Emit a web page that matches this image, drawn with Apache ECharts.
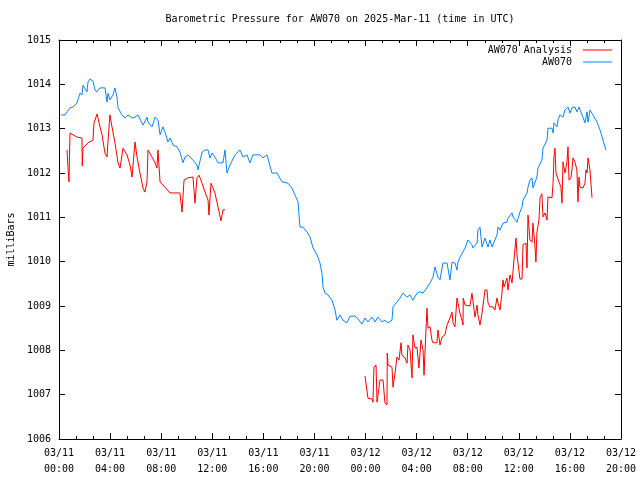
<!DOCTYPE html>
<html>
<head>
<meta charset="utf-8">
<script src="https://cdn.jsdelivr.net/npm/echarts@6/dist/echarts.min.js"></script>
<style>html,body{margin:0;padding:0;background:#fff}#c{width:640px;height:480px}</style>
</head>
<body>
<div id="c"></div>
<script>
// Hours since 03/11 00:00 UTC
var xTickLabels = ['03/11\n00:00','03/11\n04:00','03/11\n08:00','03/11\n12:00','03/11\n16:00','03/11\n20:00','03/12\n00:00','03/12\n04:00','03/12\n08:00','03/12\n12:00','03/12\n16:00','03/12\n20:00'];

var blueHours = [0.16,0.47,0.63,0.86,1.10,1.41,1.64,1.80,1.88,2.19,
2.27,2.43,2.66,2.82,2.98,3.21,3.60,3.76,3.84,3.99,
4.23,4.38,4.54,4.62,4.93,5.17,5.40,5.72,5.95,6.18,
6.58,6.89,6.97,7.28,7.52,7.75,7.91,8.14,8.30,8.53,
8.69,8.93,9.24,9.47,9.71,9.86,10.10,10.49,10.80,10.88,
11.20,11.43,11.67,11.82,11.98,12.21,12.45,12.84,13.00,13.15,
13.39,13.78,14.17,14.41,14.72,14.95,15.19,15.74,15.97,16.28,
16.67,17.07,17.46,17.93,18.24,18.48,18.71,18.87,19.10,19.42,
19.65,19.89,20.20,20.43,20.59,20.67,20.83,21.06,21.37,21.61,
21.76,22.00,22.23,22.55,22.78,23.17,23.41,23.72,23.96,24.19,
24.50,24.74,24.97,25.29,25.52,25.76,26.07,26.15,26.46,26.70,
26.93,27.25,27.48,27.71,28.03,28.26,28.50,28.81,29.05,29.28,
29.44,29.67,29.83,30.06,30.38,30.61,30.77,31.00,31.16,31.24,
31.39,31.63,31.79,32.02,32.33,32.41,32.73,32.80,32.96,33.12,
33.35,33.59,33.74,33.90,34.13,34.29,34.37,34.53,34.76,35.07,
35.15,35.47,35.54,35.86,36.09,36.25,36.33,36.64,36.72,36.87,
37.03,37.11,37.42,37.50,37.81,37.89,38.21,38.28,38.60,38.68,
38.75,38.99,39.07,39.22,39.46,39.61,39.85,40.00,40.16,40.39,
40.55,40.71,40.95,41.02,41.18,41.34,41.42,41.57,41.81,42.12,
42.36,42.59,42.82];

var bluePressure = [1013.31,1013.31,1013.38,1013.47,1013.49,1013.58,1013.80,1013.76,1013.98,1013.83,
1014.05,1014.12,1014.07,1013.87,1013.83,1013.92,1013.92,1013.60,1013.80,1013.65,
1013.76,1013.92,1013.71,1013.47,1013.31,1013.24,1013.31,1013.24,1013.26,1013.31,
1013.08,1013.26,1013.15,1013.04,1013.26,1013.20,1012.86,1013.04,1012.92,1012.70,
1012.79,1012.63,1012.59,1012.47,1012.23,1012.36,1012.41,1012.29,1012.18,1012.07,
1012.47,1012.52,1012.52,1012.34,1012.45,1012.36,1012.23,1012.23,1012.52,1012.00,
1012.18,1012.41,1012.52,1012.36,1012.41,1012.23,1012.41,1012.41,1012.34,1012.41,
1012.00,1012.00,1011.80,1011.77,1011.66,1011.50,1011.35,1010.78,1010.78,1010.67,
1010.56,1010.31,1010.15,1009.97,1009.74,1009.43,1009.29,1009.25,1009.13,1008.91,
1008.68,1008.80,1008.68,1008.62,1008.77,1008.77,1008.71,1008.59,1008.73,1008.64,
1008.75,1008.64,1008.75,1008.64,1008.68,1008.62,1008.68,1008.98,1009.09,1009.18,
1009.29,1009.20,1009.25,1009.13,1009.29,1009.32,1009.29,1009.41,1009.52,1009.65,
1009.88,1009.65,1009.59,1009.97,1009.97,1009.59,1009.99,1009.97,1009.81,1009.99,
1010.10,1010.22,1010.31,1010.49,1010.38,1010.31,1010.42,1010.71,1010.78,1010.33,
1010.53,1010.33,1010.49,1010.33,1010.49,1010.60,1010.78,1010.71,1010.87,1010.89,
1010.98,1011.10,1011.01,1010.89,1011.12,1011.23,1011.39,1011.55,1011.68,1011.84,
1011.89,1011.66,1011.91,1012.11,1012.29,1012.56,1012.74,1013.01,1013.01,1012.90,
1013.13,1013.04,1013.20,1013.31,1013.26,1013.42,1013.49,1013.35,1013.47,1013.49,
1013.38,1013.49,1013.31,1013.26,1013.13,1013.38,1013.15,1013.42,1013.31,1013.15,
1012.97,1012.74,1012.52];

var redHours1 = [0.63,0.70,0.78,0.86,1.41,1.80,1.82,1.88,2.27,2.66,
2.74,2.98,3.21,3.37,3.60,3.76,3.84,3.99,4.15,4.38,
4.62,4.78,5.01,5.32,5.56,5.72,5.95,6.11,6.34,6.58,
6.73,6.89,6.97,7.28,7.52,7.67,7.75,7.91,8.30,8.69,
9.47,9.63,9.79,10.10,10.49,10.65,10.80,10.96,11.20,11.43,
11.67,11.74,11.90,12.21,12.45,12.68,12.84,13.00];

var redPressure1 = [1012.52,1012.13,1011.80,1012.90,1012.81,1012.79,1012.16,1012.56,1012.68,1012.74,
1013.13,1013.33,1013.04,1012.86,1012.45,1012.36,1012.74,1013.31,1013.04,1012.68,
1012.23,1012.11,1012.56,1012.41,1012.18,1011.91,1012.70,1012.36,1012.00,1011.66,
1011.57,1011.80,1012.52,1012.36,1012.23,1012.11,1012.52,1011.80,1011.68,1011.55,
1011.55,1011.12,1011.84,1011.89,1011.91,1011.32,1011.89,1011.95,1011.77,1011.57,
1011.39,1011.05,1011.77,1011.55,1011.23,1010.92,1011.17,1011.17];

var redHours2 = [23.96,24.11,24.19,24.50,24.58,24.66,24.82,24.90,25.13,25.37,
25.52,25.68,25.70,25.76,26.07,26.15,26.31,26.46,26.62,26.78,
26.85,27.09,27.25,27.32,27.48,27.64,27.71,27.87,28.03,28.18,
28.34,28.50,28.58,28.65,28.81,28.89,29.05,29.20,29.28,29.59,
29.67,29.83,29.99,30.22,30.38,30.61,30.77,30.85,31.00,31.16,
31.24,31.39,31.55,31.63,31.65,31.79,32.18,32.33,32.41,32.57,
32.73,32.80,32.96,33.12,33.19,33.35,33.51,33.59,33.74,33.98,
34.13,34.29,34.37,34.53,34.68,34.76,34.84,35.07,35.15,35.31,
35.47,35.54,35.62,35.78,35.86,36.09,36.25,36.33,36.56,36.64,
36.72,36.87,37.03,37.11,37.27,37.34,37.42,37.58,37.66,37.81,
37.89,38.05,38.21,38.28,38.60,38.68,38.75,38.83,38.91,38.99,
39.14,39.30,39.38,39.46,39.61,39.77,39.85,39.93,40.08,40.16,
40.24,40.39,40.55,40.63,40.71,40.79,41.02,41.18,41.26,41.34,
41.42,41.57,41.73];

var redPressure2 = [1007.42,1007.38,1006.92,1006.90,1006.83,1007.62,1007.67,1006.83,1007.33,1007.33,
1006.81,1006.77,1007.94,1007.67,1007.62,1007.17,1007.49,1007.85,1007.78,1008.17,
1007.89,1007.83,1007.71,1008.12,1008.01,1007.38,1008.35,1008.05,1008.07,1007.60,
1008.23,1008.01,1007.44,1007.94,1008.95,1008.50,1008.53,1008.23,1008.17,1008.17,
1008.46,1008.12,1008.30,1008.35,1008.57,1008.73,1008.86,1008.62,1008.53,1009.18,
1009.20,1008.84,1008.68,1008.57,1009.18,1009.02,1009.00,1009.29,1009.29,1008.75,
1009.02,1008.80,1008.57,1008.84,1008.86,1009.36,1009.36,1009.07,1008.98,1008.98,
1008.91,1009.18,1009.07,1008.91,1009.29,1009.59,1009.43,1009.63,1009.36,1009.70,
1009.52,1009.54,1010.04,1010.53,1010.15,1009.61,1009.61,1010.38,1010.42,1009.86,
1011.05,1010.49,1010.44,1010.87,1010.33,1009.99,1010.67,1010.94,1011.44,1011.53,
1011.01,1011.10,1010.94,1011.46,1011.44,1011.77,1012.36,1012.56,1012.00,1012.02,
1011.80,1011.68,1011.32,1012.25,1012.00,1012.25,1012.59,1011.84,1011.89,1012.07,
1012.34,1012.25,1012.07,1011.35,1011.91,1011.68,1011.66,1011.77,1012.07,1012.00,
1012.34,1012.07,1011.44];

function zip(h, v) {
  var out = [];
  var n = Math.min(h.length, v.length);
  for (var i = 0; i < n; i++) out.push([h[i], v[i]]);
  return out;
}
var blueData = zip(blueHours, bluePressure);
var redData = zip(redHours1, redPressure1).concat([[18.5, null]]).concat(zip(redHours2, redPressure2));

var FONT = 'DejaVu Sans Mono';
var chart = echarts.init(document.getElementById('c'), null, {renderer: 'canvas'});

function xAxisCfg(pos, labels) {
  return {
    type: 'value', position: pos, min: 0, max: 44, interval: 4,
    axisLine: {show: true, onZero: false, lineStyle: {color: '#000', width: 1}},
    axisTick: {show: true, inside: true, length: 6, lineStyle: {color: '#000'}},
    minorTick: {show: true, splitNumber: 3, length: 3, lineStyle: {color: '#000'}},
    splitLine: {show: false},
    axisLabel: {
      show: labels, color: '#000', fontFamily: FONT, fontSize: 10, lineHeight: 16, margin: 6,
      formatter: function (v) { return xTickLabels[Math.round(v / 4)] || ''; }
    }
  };
}
function yAxisCfg(pos, labels) {
  var c = {
    type: 'value', position: pos, min: 1006, max: 1015, interval: 1,
    axisLine: {show: true, onZero: false, lineStyle: {color: '#000', width: 1}},
    axisTick: {show: true, inside: true, length: 6, lineStyle: {color: '#000'}},
    splitLine: {show: false},
    axisLabel: {show: labels, color: '#000', fontFamily: FONT, fontSize: 10, margin: 8,
      formatter: function (v) { return String(Math.round(v)); }}
  };
  if (labels) {
    c.name = 'milliBars';
    c.nameLocation = 'middle';
    c.nameRotate = 90;
    c.nameGap = 42;
    c.nameTextStyle = {color: '#000', fontFamily: FONT, fontSize: 10};
  }
  return c;
}

chart.setOption({
  animation: false,
  backgroundColor: '#fff',
  grid: {left: 59, right: 19, top: 40, bottom: 41, containLabel: false, outerBoundsMode: 'none'},
  graphic: [{
    type: 'text', x: 340, y: 19,
    style: {text: 'Barometric Pressure for AW070 on 2025-Mar-11 (time in UTC)', fill: '#000',
      font: '10px "' + FONT + '"', textAlign: 'center', textVerticalAlign: 'middle'}
  }],
  legend: {
    right: 28, top: 44, orient: 'vertical', align: 'right', padding: 0,
    itemWidth: 29, itemHeight: 1, itemGap: 0, icon: 'rect',
    textStyle: {color: '#000', fontFamily: FONT, fontSize: 10, lineHeight: 12},
    formatter: function (n) { return n + ' '; },
    data: ['AW070 Analysis', 'AW070']
  },
  xAxis: [xAxisCfg('bottom', true), xAxisCfg('top', false)],
  yAxis: [yAxisCfg('left', true), yAxisCfg('right', false)],
  series: [
    {name: 'AW070 Analysis', type: 'line', data: redData, showSymbol: false, symbol: 'none',
      connectNulls: false, lineStyle: {color: '#ff0000', width: 1}, itemStyle: {color: '#ff0000'}},
    {name: 'AW070', type: 'line', data: blueData, showSymbol: false, symbol: 'none',
      lineStyle: {color: '#0a84ff', width: 1}, itemStyle: {color: '#0a84ff'}}
  ]
});
</script>
</body>
</html>
